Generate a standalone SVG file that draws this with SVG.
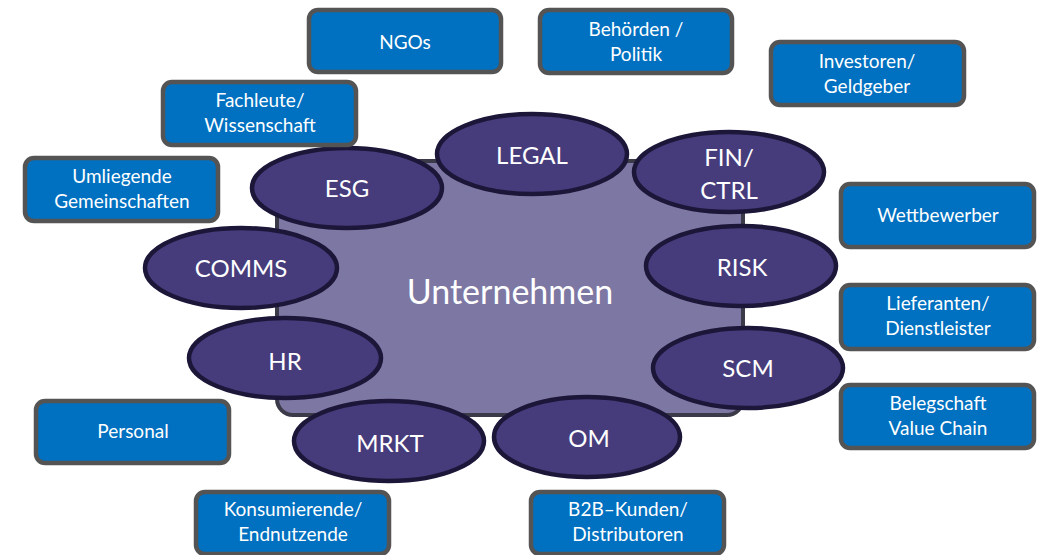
<svg xmlns="http://www.w3.org/2000/svg" width="1043" height="555" viewBox="0 0 1043 555">
  <style>
    .box { fill: #0070c0; stroke: #545454; stroke-width: 4.5; }
    .box-text { fill: #ffffff; font-family: Lato, "Open Sans", "Liberation Sans", sans-serif; font-size: 19px; text-anchor: middle; }
    .dept { fill: #463c7c; stroke: #1c1638; stroke-width: 4.5; }
    .dept-text { fill: #ffffff; font-family: Lato, "Open Sans", "Liberation Sans", sans-serif; font-size: 24px; text-anchor: middle; }
    .core { fill: #7d77a3; stroke: #3b3a48; stroke-width: 4; }
    .core-text { fill: #ffffff; font-family: Lato, "Open Sans", "Liberation Sans", sans-serif; font-size: 34px; text-anchor: middle; }
  </style>

  <!-- company core -->
  <g id="unternehmen">
    <rect class="core" x="277" y="161" width="466" height="254" rx="16"/>
    <text class="core-text" x="510" y="304">Unternehmen</text>
  </g>

  <!-- no connectors in this figure -->
  <g id="connectors"/>

  <!-- internal functions -->
  <g id="legal"><ellipse class="dept" cx="532" cy="154" rx="95" ry="40"/><text class="dept-text" x="532" y="164">LEGAL</text></g>
  <g id="esg"><ellipse class="dept" cx="347" cy="188" rx="95" ry="40"/><text class="dept-text" x="347" y="197">ESG</text></g>
  <g id="fin-ctrl"><ellipse class="dept" cx="729" cy="172" rx="95" ry="40"/><text class="dept-text" x="729" y="166">FIN/</text><text class="dept-text" x="729" y="199">CTRL</text></g>
  <g id="risk"><ellipse class="dept" cx="741" cy="266" rx="95" ry="40"/><text class="dept-text" x="742" y="276">RISK</text></g>
  <g id="scm"><ellipse class="dept" cx="748" cy="368" rx="95" ry="40"/><text class="dept-text" x="748" y="377">SCM</text></g>
  <g id="comms"><ellipse class="dept" cx="241" cy="268" rx="96" ry="40"/><text class="dept-text" x="241" y="277">COMMS</text></g>
  <g id="hr"><ellipse class="dept" cx="285" cy="358" rx="96" ry="40"/><text class="dept-text" x="285" y="370">HR</text></g>
  <g id="mrkt"><ellipse class="dept" cx="389" cy="441" rx="95" ry="40"/><text class="dept-text" x="390" y="452">MRKT</text></g>
  <g id="om"><ellipse class="dept" cx="587" cy="437" rx="93" ry="40"/><text class="dept-text" x="589" y="447">OM</text></g>

  <!-- external stakeholders -->
  <g id="ngos"><rect class="box" x="309" y="10" width="192" height="62" rx="9"/><text class="box-text" x="405" y="49">NGOs</text></g>
  <g id="behoerden"><rect class="box" x="540" y="10" width="192" height="63" rx="9"/><text class="box-text" x="636" y="36">Behörden /</text><text class="box-text" x="636" y="61">Politik</text></g>
  <g id="investoren"><rect class="box" x="771" y="42" width="193" height="63" rx="9"/><text class="box-text" x="867" y="68">Investoren/</text><text class="box-text" x="867" y="93">Geldgeber</text></g>
  <g id="fachleute"><rect class="box" x="163" y="82" width="193" height="63" rx="9"/><text class="box-text" x="260" y="107">Fachleute/</text><text class="box-text" x="260" y="132">Wissenschaft</text></g>
  <g id="umliegende"><rect class="box" x="25" y="158" width="193" height="63" rx="9"/><text class="box-text" x="122" y="183">Umliegende</text><text class="box-text" x="122" y="208">Gemeinschaften</text></g>
  <g id="wettbewerber"><rect class="box" x="841" y="184" width="193" height="63" rx="9"/><text class="box-text" x="938" y="222">Wettbewerber</text></g>
  <g id="lieferanten"><rect class="box" x="841" y="285" width="193" height="64" rx="9"/><text class="box-text" x="938" y="310">Lieferanten/</text><text class="box-text" x="938" y="335">Dienstleister</text></g>
  <g id="belegschaft"><rect class="box" x="841" y="385" width="193" height="63" rx="9"/><text class="box-text" x="938" y="410">Belegschaft</text><text class="box-text" x="938" y="435">Value Chain</text></g>
  <g id="personal"><rect class="box" x="36" y="401" width="193" height="62" rx="9"/><text class="box-text" x="133" y="438">Personal</text></g>
  <g id="konsumierende"><rect class="box" x="196" y="492" width="193" height="62" rx="9"/><text class="box-text" x="293" y="516">Konsumierende/</text><text class="box-text" x="293" y="541">Endnutzende</text></g>
  <g id="b2b"><rect class="box" x="531" y="492" width="193" height="62" rx="9"/><text class="box-text" x="628" y="516">B2B–Kunden/</text><text class="box-text" x="628" y="541">Distributoren</text></g>
</svg>
